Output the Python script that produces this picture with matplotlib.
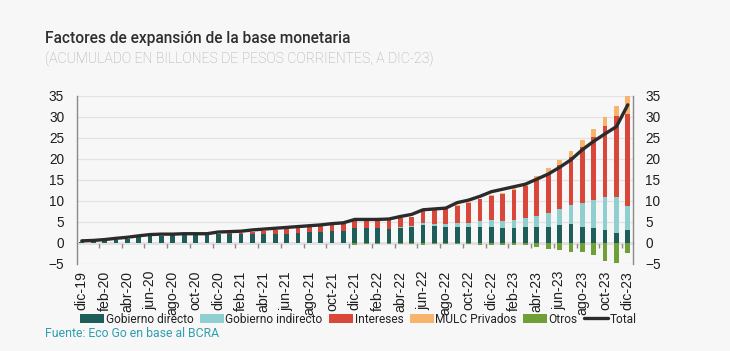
import matplotlib.pyplot as plt
import numpy as np

# cumulative, billions of pesos, dic-19 .. dic-23 (monthly)
gob_directo = [0.3, 0.4, 0.5, 0.7, 1.0, 1.3, 1.6, 1.7, 1.8, 1.8, 1.8, 1.8,
               2.1, 2.1, 2.1, 2.1, 2.1, 2.1, 2.2, 2.3, 2.5, 2.5, 2.9, 2.9,
               3.6, 3.5, 3.5, 3.3, 3.6, 3.9, 4.3, 4.1, 3.9, 3.9, 3.8, 3.8,
               3.8, 3.5, 3.6, 3.7, 3.8, 3.8, 4.3, 4.4, 3.7, 3.6, 3.1, 2.3, 3.1]
gob_indirecto = [0, 0, 0, 0, 0, 0, 0, 0, 0, 0, 0, 0,
                 0, 0, 0, 0, 0, 0, 0, 0, 0, 0, 0, 0,
                 0, 0, 0, 0, 0.1, 0.2, 0.4, 0.4, 0.5, 0.8, 1.0, 1.4,
                 1.7, 1.8, 1.8, 2.2, 2.7, 3.3, 3.7, 4.6, 5.7, 6.6, 7.9, 8.7, 5.8]
intereses = [0, 0, 0, 0, 0, 0, 0, 0, 0, 0, 0, 0.05,
             0.1, 0.2, 0.3, 0.5, 0.7, 1.0, 1.2, 1.3, 1.4, 1.6, 1.4, 1.5,
             1.9, 1.7, 2.0, 2.2, 2.2, 2.2, 2.8, 3.4, 3.6, 4.1, 4.8, 5.2,
             5.7, 6.3, 7.1, 7.6, 8.7, 9.65, 10.5, 11.5, 13.55, 15.0, 16.95, 19.35, 21.8]
mulc_privados = [0, 0, 0, 0, 0, 0, 0, 0, 0, 0, 0, 0,
                 0, 0, 0, 0, 0, 0, 0, 0, 0, 0, 0, 0,
                 0.1, 0.1, 0.1, 0, 0, 0, 0, 0, 0, 0.15, 0.15, 0.15,
                 0.15, 0.4, 0.5, 0.6, 0.8, 1.0, 1.3, 1.5, 1.6, 2.0, 2.0, 2.2, 4.2]
otros = [0, 0, 0, 0, 0, 0, 0, 0, 0, 0, 0, 0,
         0, 0, 0, 0, 0, 0, 0, 0, 0, -0.1, -0.1, -0.1,
         -0.4, -0.3, -0.3, -0.3, -0.3, -0.3, -0.4, -0.3, -0.3, -0.3, -0.3, -0.4,
         -0.4, -0.5, -0.5, -0.6, -1.0, -1.4, -1.7, -2.1, -2.1, -2.9, -4.2, -4.8, -2.3]
total = [0.5, 0.6, 0.8, 1.1, 1.35, 1.7, 2.0, 2.1, 2.1, 2.2, 2.2, 2.2,
         2.6, 2.7, 2.8, 3.1, 3.3, 3.5, 3.7, 3.9, 4.1, 4.3, 4.6, 4.8,
         5.6, 5.6, 5.6, 5.7, 6.3, 6.8, 7.9, 8.1, 8.3, 9.6, 10.2, 11.1,
         12.2, 12.8, 13.4, 14.0, 15.2, 16.4, 18.0, 19.8, 22.2, 24.2, 26.0, 27.7, 32.9]
tick_labels = ['dic-19', 'feb-20', 'abr-20', 'jun-20', 'ago-20', 'oct-20',
               'dic-20', 'feb-21', 'abr-21', 'jun-21', 'ago-21', 'oct-21',
               'dic-21', 'feb-22', 'abr-22', 'jun-22', 'ago-22', 'oct-22',
               'dic-22', 'feb-23', 'abr-23', 'jun-23', 'ago-23', 'oct-23', 'dic-23']

bg = '#f7f7f7'
c_gd = '#1f5d5a'
c_gi = '#8fcfcf'
c_int = '#d9463a'
c_mulc = '#f6b46c'
c_otros = '#6f9f35'
c_total = '#2b2b2b'

tick_font = ['Liberation Sans', 'DejaVu Sans']
narrow_font = ['Liberation Sans Narrow', 'Roboto', 'DejaVu Sans']

x = np.arange(len(total))
gd = np.array(gob_directo)
gi = np.array(gob_indirecto)
it = np.array(intereses)
mu = np.array(mulc_privados)

fig = plt.figure(figsize=(7.3, 3.51), dpi=100, facecolor=bg)
ax = fig.add_axes([0.105, 0.248, 0.762, 0.4785], facecolor=bg)

w = 0.42
ax.bar(x, gd, w, color=c_gd, label='Gobierno directo', zorder=2)
ax.bar(x, gi, w, bottom=gd, color=c_gi, label='Gobierno indirecto', zorder=2)
ax.bar(x, it, w, bottom=gd + gi, color=c_int, label='Intereses', zorder=2)
ax.bar(x, mu, w, bottom=gd + gi + it, color=c_mulc, label='MULC Privados', zorder=2)
ax.bar(x, otros, w, color=c_otros, label='Otros', zorder=2)
ax.plot(x, total, color=c_total, lw=2.4, label='Total', zorder=4,
        solid_capstyle='round')

ax.set_xlim(-0.45, 48.45)
ax.set_ylim(-5, 35)
ax.set_yticks(np.arange(-5, 36, 5))
ax.grid(axis='y', color='#e2e2e2', lw=0.9, zorder=0)
ax.set_axisbelow(True)
for s in ['top', 'bottom']:
    ax.spines[s].set_visible(False)
for s in ['left', 'right']:
    ax.spines[s].set_color('#8a8a8a')
    ax.spines[s].set_linewidth(1.0)

ax.set_xticks(x[::2])
ax.set_xticklabels(tick_labels, rotation=90, family=tick_font, fontsize=10.2,
                   color='#1e1e1e')
ax.tick_params(axis='x', length=0, pad=5)
ax.tick_params(axis='y', length=0, pad=9, labelsize=9.8, labelcolor='#1e1e1e')
for lab in ax.get_yticklabels():
    lab.set_family(tick_font)

ax2 = ax.twinx()
ax2.set_ylim(ax.get_ylim())
ax2.set_yticks(np.arange(-5, 36, 5))
ax2.tick_params(axis='y', length=0, pad=9, labelsize=9.8, labelcolor='#1e1e1e')
for lab in ax2.get_yticklabels():
    lab.set_family(tick_font)
for s in ['top', 'bottom', 'left', 'right']:
    ax2.spines[s].set_visible(False)

# zero line with tick marks between bar pairs
zero = ax.secondary_xaxis(5 / 40)
zero.set_xticks(x[1:-1:2] + 0.5)
zero.set_xticklabels([])
zero.tick_params(length=3.5, width=1.0, color='#8a8a8a', direction='out')
zero.spines['bottom'].set_color('#8a8a8a')
zero.spines['bottom'].set_linewidth(1.0)

fig.text(0.062, 0.878, 'Factores de expansión de la base monetaria',
         family=['Roboto', 'DejaVu Sans'], fontweight='medium', fontsize=11.2,
         color='#2f2f2f')
fig.text(0.062, 0.82, '(ACUMULADO EN BILLONES DE PESOS CORRIENTES, A DIC-23)',
         family=['Roboto', 'DejaVu Sans'], fontweight='light', fontsize=10.1,
         color='#a9a9a9')

handles, labels = ax.get_legend_handles_labels()
order = [1, 2, 3, 4, 5, 0]
leg = fig.legend([handles[i] for i in order], [labels[i] for i in order],
                 loc='center', bbox_to_anchor=(0.491, 0.091), ncol=6,
                 frameon=False, handlelength=2.0, handletextpad=0.12,
                 columnspacing=0.55, prop={'family': narrow_font, 'size': 8.6})
for t in leg.get_texts():
    t.set_color('#222222')

fig.text(0.062, 0.04, 'Fuente: Eco Go en base al BCRA', family=narrow_font,
         fontsize=8.8, color='#2e9fae')

fig.savefig('out.png', dpi=100, facecolor=bg)
